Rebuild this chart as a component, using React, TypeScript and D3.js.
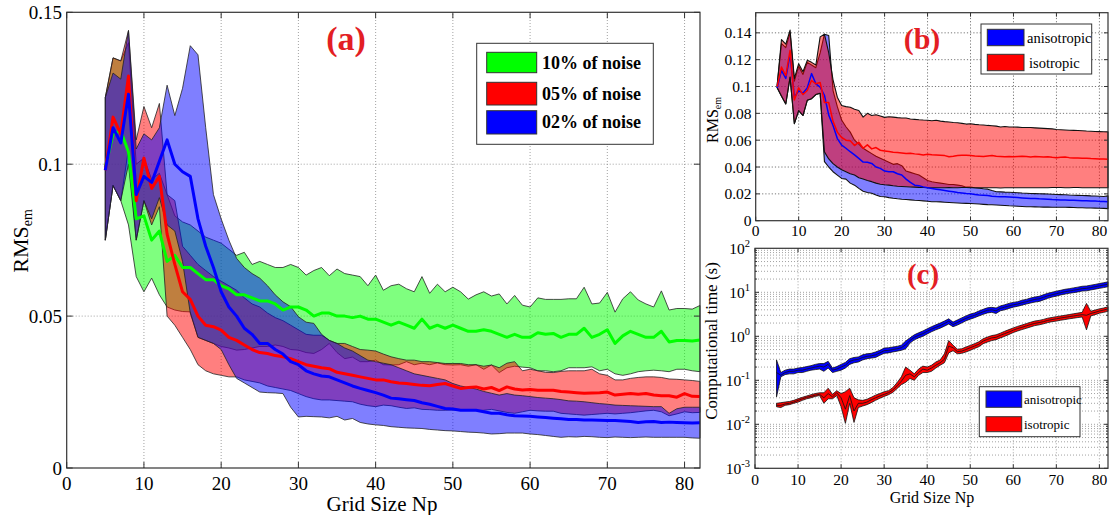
import React from "react";
import * as d3 from "d3";

const FONT = '"Liberation Serif", "DejaVu Serif", "Times New Roman", serif';

// grid sizes Np = 5 .. 82
const gridSize = d3.range(5, 83);
const xTicks = [0, 10, 20, 30, 40, 50, 60, 70, 80];
const aYTicks = [0, 0.05, 0.1, 0.15];
const aYLabels = ["0", "0.05", "0.1", "0.15"];
const bYTicks = [0, 0.02, 0.04, 0.06, 0.08, 0.1, 0.12, 0.14];
const bYLabels = ["0", "0.02", "0.04", "0.06", "0.08", "0.1", "0.12", "0.14"];
const cYExps = [-3, -2, -1, 0, 1, 2];

// ---- panel (a): RMS for three noise levels ----
const noiseLabels = ["10% of noise", "05% of noise", "02% of noise"];

const green10Mean = [
  .099, .110, .111, .104, .082, .083, .075, .078, .068, .070,
  .066, .066, .064, .062, .062, .060, .059, .057, .057, .056,
  .055, .055, .054, .052, .053, .053, .052, .050, .051, .051,
  .050, .050, .0495, .050, .049, .049, .048, .047, .048, .047,
  .046, .049, .046, .047, .046, .047, .046, .045, .045, .0455,
  .045, .044, .043, .044, .043, .043, .0445, .044, .0443, .043,
  .044, .044, .046, .043, .044, .0455, .041, .0435, .045, .044,
  .043, .043, .045, .0415, .042, .042, .0418, .0421,
];
const green10High = [
  .122, .135, .134, .140, .100, .102, .095, .097, .090, .083,
  .081, .080, .078, .076, .075, .074, .072, .070, .071, .067,
  .068, .067, .066, .066, .067, .066, .0635, .065, .066, .0633,
  .0655, .064, .0635, .063, .060, .0635, .0585, .060, .0605, .059,
  .058, .063, .0575, .0605, .058, .0595, .058, .0556, .057, .058,
  .0566, .0573, .054, .0568, .0536, .053, .056, .0555, .0555, .0555,
  .0557, .0557, .0595, .054, .0543, .0578, .0513, .0557, .058, .0553,
  .054, .053, .0583, .052, .0525, .0525, .0523, .0535,
];
const green10Low = [
  .075, .093, .088, .080, .063, .058, .0625, .057, .053, .052,
  .0515, .0514, .043, .042, .041, .040, .0395, .0388, .039, .0395,
  .040, .040, .0405, .040, .039, .0388, .038, .0377, .039, .041,
  .038, .036, .0365, .035, .035, .0355, .034, .0339, .034, .035,
  .034, .0345, .034, .0346, .034, .0339, .034, .0335, .034, .0325,
  .0339, .0314, .033, .0335, .0332, .033, .032, .032, .0317, .032,
  .033, .033, .033, .0333, .032, .0325, .031, .0305, .031, .0317,
  .032, .0322, .032, .0317, .0325, .0325, .032, .0317,
];

const red05Mean = [
  .098, .1155, .110, .129, .088, .102, .092, .096, .077, .067,
  .058, .0555, .050, .047, .0465, .0454, .043, .042, .0405, .039,
  .038, .0377, .037, .0366, .036, .035, .034, .0335, .033, .0327,
  .0315, .031, .0305, .030, .0295, .029, .029, .0284, .028, .0278,
  .0275, .0272, .0271, .0275, .0278, .027, .0262, .0265, .0267, .026,
  .0265, .0255, .0267, .026, .0257, .0258, .0256, .0256, .0256, .0252,
  .025, .0248, .0246, .0247, .0248, .025, .024, .0243, .0245, .0243,
  .0245, .024, .0238, .0238, .0233, .0245, .0236, .0235,
];
const red05High = [
  .122, .135, .134, .144, .108, .119, .112, .120, .090, .088,
  .073, .070, .067, .065, .063, .0615, .060, .0585, .056, .054,
  .053, .051, .0495, .0485, .047, .0455, .044, .0437, .0437, .042,
  .041, .041, .040, .039, .0388, .0385, .0375, .0366, .036, .0355,
  .0355, .035, .035, .0347, .0344, .0344, .0344, .034, .034, .0335,
  .0339, .033, .0345, .035, .032, .0325, .032, .0315, .0314, .0318,
  .032, .032, .032, .0325, .031, .0305, .029, .029, .0295, .0298,
  .030, .030, .0298, .0293, .0292, .029, .0288, .0285,
];
const red05Low = [
  .075, .093, .088, .105, .075, .088, .080, .086, .050, .047,
  .043, .039, .034, .032, .031, .0305, .030, .030, .029, .0285,
  .028, .027, .0265, .026, .0255, .0245, .0235, .0228, .0224, .0224,
  .0222, .022, .0218, .021, .0205, .0202, .0207, .0205, .020, .0196,
  .0198, .0193, .0192, .019, .019, .0191, .019, .019, .0189, .019,
  .0193, .0188, .0183, .018, .0185, .019, .0188, .0187, .0187, .018,
  .0178, .0176, .0174, .0176, .0178, .018, .0178, .018, .0182, .0185,
  .0188, .019, .0185, .0172, .0178, .0185, .0182, .0183,
];

const blue02Mean = [
  .098, .112, .107, .123, .090, .096, .094, .101, .108, .100,
  .0975, .096, .082, .073, .066, .058, .053, .050, .046, .044,
  .041, .041, .039, .0375, .035, .034, .032, .031, .0303, .030,
  .029, .028, .027, .0262, .0255, .0248, .024, .023, .0228, .0225,
  .0222, .0215, .021, .0203, .0196, .0194, .019, .019, .019, .0185,
  .018, .018, .0175, .0172, .0171, .017, .0168, .0166, .0164, .0162,
  .016, .016, .0158, .0158, .0157, .0156, .0156, .0155, .0153, .015,
  .0152, .0153, .015, .0151, .015, .0149, .0148, .0149,
];
const blue02High = [
  .122, .130, .128, .144, .105, .110, .108, .112, .126, .116,
  .125, .139, .136, .112, .090, .082, .075, .069, .066, .064,
  .0625, .060, .057, .0547, .0531, .0498, .048, .0476, .044, .042,
  .041, .0395, .0385, .037, .0355, .035, .0345, .034, .033, .032,
  .031, .0305, .030, .0295, .029, .0278, .027, .0265, .026, .0252,
  .0246, .024, .0245, .024, .0238, .0235, .0232, .023, .0228, .0225,
  .0221, .022, .0218, .0215, .0212, .021, .0207, .0206, .0205, .0204,
  .0203, .0202, .0202, .018, .0195, .020, .020, .020,
];
const blue02Low = [
  .075, .093, .088, .100, .075, .088, .082, .089, .080, .078,
  .068, .051, .043, .042, .041, .039, .034, .0295, .028, .0265,
  .025, .0248, .0247, .0245, .020, .0168, .017, .0169, .0168, .0165,
  .017, .0158, .0163, .015, .0145, .0142, .014, .0136, .0134, .0132,
  .0131, .013, .0127, .0125, .0123, .0122, .012, .0118, .0117, .0115,
  .0112, .0113, .0115, .0115, .0115, .0112, .011, .0107, .0104, .0101,
  .0103, .0102, .0104, .0103, .0101, .010, .0102, .0101, .010, .0101,
  .0102, .0101, .0101, .0101, .0101, .0101, .0099, .0098,
];

// ---- panel (b): RMS anisotropic vs isotropic ----
const modelLabels = ["anisotropic", "isotropic"];

const isoRmsMean = [
  .100, .1145, .108, .127, .090, .099, .094, .097, .1045, .102,
  .103, .088, .088, .074, .066, .062, .060, .0595, .056, .0585,
  .054, .0565, .0535, .0545, .0525, .052, .0515, .051, .0508, .0505,
  .050, .0502, .0498, .0495, .049, .0495, .0492, .049, .0488, .0485,
  .0476, .048, .0485, .0488, .0488, .0485, .0482, .048, .0478, .0482,
  .0485, .048, .0478, .0476, .0478, .0476, .0478, .048, .0478, .0475,
  .0478, .0476, .0474, .0476, .0472, .047, .0472, .0474, .047, .0468,
  .0467, .0466, .0465, .0463, .0462, .046, .046, .0458,
];
const isoRmsHigh = [
  .101, .135, .1315, .142, .106, .117, .111, .1195, .118, .116,
  .137, .139, .125, .105, .092, .0858, .085, .0846, .083, .0821,
  .0772, .080, .0784, .079, .078, .077, .0775, .0772, .0768, .0765,
  .0765, .0758, .0755, .0752, .075, .0749, .0745, .0748, .0742, .0738,
  .0735, .0732, .073, .0725, .072, .0722, .0718, .0715, .0713, .071,
  .0708, .0705, .0698, .0702, .0698, .0698, .0697, .0695, .0694, .0694,
  .0692, .069, .0688, .0686, .0684, .068, .0678, .0676, .0674, .0673,
  .0672, .067, .0668, .0667, .0665, .0664, .0663, .0662,
];
const isoRmsLow = [
  .099, .0927, .087, .107, .0723, .082, .0784, .0897, .0909, .094,
  .095, .0513, .046, .0425, .040, .038, .0365, .035, .034, .032,
  .031, .030, .0291, .028, .0272, .0268, .0265, .026, .0257, .0255,
  .0253, .0251, .025, .0248, .0247, .0246, .0245, .0245, .0246, .0246,
  .0247, .0246, .0246, .0247, .0247, .0246, .0245, .0245, .0246, .0246,
  .0245, .0245, .0244, .0245, .0246, .0245, .0245, .0246, .0245, .0245,
  .0246, .0246, .0245, .0246, .0247, .0247, .0247, .0246, .0246, .0247,
  .0247, .0246, .0246, .0246, .0246, .0246, .0245, .0245,
];

const anisoRmsMean = [
  .099, .112, .106, .124, .092, .097, .095, .099, .1096, .102,
  .0996, .0935, .0787, .071, .0612, .0563, .054, .0514, .049, .0464,
  .0437, .0435, .0427, .040, .039, .037, .0365, .0365, .035, .034,
  .031, .0285, .0265, .026, .0252, .0245, .024, .0235, .023, .0225,
  .022, .0215, .021, .0207, .0203, .020, .0196, .0192, .019, .0187,
  .0183, .018, .0179, .0178, .0176, .0174, .0172, .017, .0168, .0166,
  .0165, .0163, .0162, .016, .0158, .0157, .0155, .0154, .0153, .0152,
  .0151, .0149, .0148, .0147, .0146, .0144, .0143, .0141,
];
const anisoRmsHigh = [
  .101, .132, .129, .140, .104, .115, .109, .118, .116, .114,
  .125, .139, .138, .097, .085, .075, .070, .066, .060, .057,
  .054, .052, .050, .048, .0465, .045, .0435, .042, .0425, .041,
  .037, .036, .035, .034, .032, .030, .029, .0285, .028, .0275,
  .027, .027, .0265, .026, .025, .025, .0245, .0242, .0238, .0235,
  .0225, .0216, .0215, .0213, .0212, .021, .0208, .0206, .0205, .0203,
  .0202, .0201, .020, .0199, .0197, .0195, .0194, .0193, .0191, .019,
  .0189, .0188, .0187, .0185, .0184, .0182, .018, .0185,
];
const anisoRmsLow = [
  .099, .093, .087, .107, .0723, .082, .0784, .0897, .0909, .094,
  .095, .044, .040, .0365, .034, .0315, .031, .028, .0265, .0241,
  .022, .021, .0205, .0192, .018, .0179, .0172, .0167, .0163, .016,
  .0158, .0155, .0152, .015, .0148, .0145, .0141, .0141, .014, .0138,
  .0136, .0134, .0132, .013, .0129, .0128, .0126, .0124, .0122, .012,
  .0119, .0117, .0115, .0113, .0111, .011, .0108, .0106, .0104, .0104,
  .0103, .0102, .0101, .0101, .010, .010, .010, .010, .0099, .0098,
  .0097, .0096, .0095, .0095, .0094, .0093, .0092, .009,
];

// ---- panel (c): computational time (s) ----
const anisoTimeMean = [
  .15, .13, .15, .16, .16, .17, .17, .18, .19, .20,
  .21, .20, .23, .17, .18, .20, .22, .27, .29, .30,
  .33, .35, .36, .38, .42, .47, .48, .50, .52, .55,
  .64, .80, .95, 1.05, 1.15, 1.3, 1.45, 1.6, 1.75, 1.95,
  2.2, 1.85, 2.05, 2.3, 2.55, 2.8, 3.0, 3.3, 3.6, 3.9,
  4.0, 3.8, 4.3, 4.6, 4.9, 5.2, 5.4, 5.8, 6.1, 6.5,
  6.9, 7.1, 7.7, 8.3, 8.8, 9.3, 9.8, 10.3, 10.7, 11.1,
  11.6, 12.1, 12.3, 12.8, 13.4, 14.0, 14.6, 15.3,
];
const anisoTimeLow = [
  .042, .12, .135, .14, .14, .15, .15, .16, .17, .175,
  .18, .16, .19, .15, .16, .17, .19, .23, .25, .26,
  .29, .31, .32, .33, .37, .41, .42, .44, .46, .48,
  .52, .70, .83, .92, 1.0, 1.13, 1.27, 1.4, 1.53, 1.7,
  1.9, 1.65, 1.8, 2.0, 2.25, 2.45, 2.65, 2.9, 3.15, 3.4,
  3.5, 3.3, 3.8, 4.0, 4.3, 4.6, 4.8, 5.1, 5.4, 5.7,
  6.0, 6.2, 6.7, 7.3, 7.8, 8.2, 8.7, 9.1, 9.5, 9.8,
  10.2, 10.7, 10.8, 11.3, 11.8, 12.3, 12.8, 13.4,
];
const anisoTimeHigh = [
  .29, .15, .17, .18, .18, .19, .195, .205, .215, .23,
  .24, .24, .27, .19, .205, .23, .255, .31, .33, .34,
  .38, .40, .41, .44, .48, .54, .55, .57, .59, .63,
  .78, .92, 1.08, 1.2, 1.32, 1.48, 1.65, 1.82, 2.0, 2.22,
  2.5, 2.1, 2.35, 2.62, 2.9, 3.2, 3.4, 3.75, 4.1, 4.45,
  4.55, 4.4, 4.9, 5.2, 5.6, 5.9, 6.1, 6.6, 6.9, 7.4,
  7.8, 8.1, 8.8, 9.5, 10.0, 10.6, 11.1, 11.7, 12.1, 12.6,
  13.1, 13.7, 13.9, 14.5, 15.1, 15.8, 16.5, 17.3,
];

const isoTimeMean = [
  .027, .027, .029, .030, .032, .035, .038, .041, .043, .046,
  .048, .040, .050, .042, .052, .040, .022, .045, .020, .030,
  .030, .032, .036, .040, .044, .048, .052, .060, .075, .095,
  .13, .14, .12, .15, .18, .17, .19, .22, .25, .30,
  .60, .55, .45, .46, .50, .55, .60, .66, .78, .85,
  .92, .95, 1.05, 1.15, 1.25, 1.38, 1.5, 1.6, 1.72, 1.85,
  1.97, 2.05, 2.15, 2.3, 2.4, 2.5, 2.6, 2.7, 2.8, 2.9,
  3.0, 3.1, 3.0, 3.3, 3.5, 3.75, 3.95, 4.2,
];
const isoTimeLow = [
  .025, .024, .027, .028, .030, .032, .035, .038, .040, .043,
  .045, .030, .038, .038, .045, .025, .0105, .030, .011, .024,
  .026, .028, .031, .035, .039, .043, .047, .053, .065, .08,
  .09, .11, .10, .13, .15, .15, .16, .19, .22, .25,
  .42, .47, .40, .41, .44, .48, .53, .58, .68, .74,
  .80, .84, .92, 1.0, 1.1, 1.22, 1.32, 1.42, 1.52, 1.63,
  1.75, 1.82, 1.92, 2.05, 2.15, 2.22, 2.32, 2.4, 2.5, 2.58,
  2.67, 2.75, 1.4, 2.9, 3.1, 3.35, 3.5, 3.7,
];
const isoTimeHigh = [
  .030, .031, .032, .033, .035, .038, .041, .044, .047, .050,
  .052, .052, .066, .048, .058, .050, .055, .066, .040, .036,
  .035, .037, .041, .046, .050, .055, .058, .068, .088, .12,
  .20, .17, .14, .18, .21, .20, .22, .26, .29, .40,
  .80, .63, .51, .52, .57, .62, .68, .75, .88, .96,
  1.04, 1.08, 1.18, 1.3, 1.42, 1.55, 1.68, 1.8, 1.94, 2.08,
  2.22, 2.3, 2.42, 2.58, 2.68, 2.8, 2.9, 3.0, 3.12, 3.25,
  3.37, 3.5, 5.6, 3.7, 3.95, 4.2, 4.4, 4.7,
];

type Scale = (v: number) => number;

function Band({ lo, hi, x, y, fill, opacity, edge, edgeWidth }: {
  lo: number[]; hi: number[]; x: Scale; y: Scale; fill: string; opacity: number; edge: string; edgeWidth: number;
}) {
  const rows = gridSize.map((g, i) => [g, lo[i], hi[i]]);
  const d = d3.area<number[]>()
    .x((r) => x(r[0]))
    .y0((r) => y(r[1]))
    .y1((r) => y(r[2]))(rows);
  return (
    <path d={d || ""} fill={fill} fillOpacity={opacity} stroke={edge} strokeWidth={edgeWidth} strokeLinejoin="round" />
  );
}

function MeanLine({ values, x, y, color, width }: {
  values: number[]; x: Scale; y: Scale; color: string; width: number;
}) {
  const d = d3.line<number>()
    .x((_, i) => x(gridSize[i]))
    .y((v) => y(v))(values);
  return <path d={d || ""} fill="none" stroke={color} strokeWidth={width} strokeLinejoin="round" />;
}

export default function App() {
  // panel (a)
  const xA = d3.scaleLinear().domain([0, 82]).range([66.7, 700]);
  const yA = d3.scaleLinear().domain([0, 0.15]).range([468, 12.3]);
  // panel (b)
  const xB = d3.scaleLinear().domain([0, 82]).range([755.7, 1108]);
  const yB = d3.scaleLinear().domain([0, 0.155]).range([220.7, 12.7]);
  // panel (c)
  const xC = d3.scaleLinear().domain([0, 82]).range([755, 1108]);
  const yC = d3.scaleLog().domain([1e-3, 1e2]).range([468.3, 248.3]);

  const [aL, aR] = xA.range();
  const [aB, aT] = yA.range();
  const [bL, bR] = xB.range();
  const [bB, bT] = yB.range();
  const [cL, cR] = xC.range();
  const [cB, cT] = yC.range();

  const cMinor: number[] = [];
  cYExps.slice(0, -1).forEach((e) => {
    for (let m = 1; m < 10; m++) cMinor.push(m * Math.pow(10, e));
  });

  const aSeries = [
    { mean: green10Mean, lo: green10Low, hi: green10High, color: "#00ff00" },
    { mean: red05Mean, lo: red05Low, hi: red05High, color: "#ff0000" },
    { mean: blue02Mean, lo: blue02Low, hi: blue02High, color: "#0000ff" },
  ];

  const dotted = { stroke: "#8a8a8a", strokeWidth: 0.8, strokeDasharray: "1,2" };

  return (
    <svg
      width={1112}
      height={515}
      style={{ position: "absolute", left: 0, top: 0, background: "#fff", fontFamily: FONT }}
      fontFamily={FONT}
    >
      <rect x={0} y={0} width={1112} height={515} fill="#fff" />

      {/* ================= panel (a) ================= */}
      <g>
        {xTicks.slice(1).map((t) => (
          <line key={"ag" + t} x1={xA(t)} x2={xA(t)} y1={aB} y2={aT} {...dotted} />
        ))}
        {aYTicks.slice(1, -1).map((t) => (
          <line key={"agy" + t} x1={aL} x2={aR} y1={yA(t)} y2={yA(t)} {...dotted} />
        ))}
        {aSeries.map((s, i) => (
          <Band key={"ab" + i} lo={s.lo} hi={s.hi} x={xA} y={yA} fill={s.color} opacity={0.5} edge="#222" edgeWidth={0.8} />
        ))}
        {aSeries.map((s, i) => (
          <MeanLine key={"al" + i} values={s.mean} x={xA} y={yA} color={s.color} width={3} />
        ))}
        <rect x={aL} y={aT} width={aR - aL} height={aB - aT} fill="none" stroke="#333" strokeWidth={1.2} />
        {xTicks.map((t) => (
          <g key={"axt" + t}>
            <line x1={xA(t)} x2={xA(t)} y1={aB} y2={aB - 6} stroke="#333" />
            <line x1={xA(t)} x2={xA(t)} y1={aT} y2={aT + 6} stroke="#333" />
            <text x={xA(t)} y={490} fontSize={19} textAnchor="middle">{t}</text>
          </g>
        ))}
        {aYTicks.map((t, i) => (
          <g key={"ayt" + t}>
            <line x1={aL} x2={aL + 6} y1={yA(t)} y2={yA(t)} stroke="#333" />
            <line x1={aR} x2={aR - 6} y1={yA(t)} y2={yA(t)} stroke="#333" />
            <text x={62} y={yA(t) + 7} fontSize={19} textAnchor="end">{aYLabels[i]}</text>
          </g>
        ))}
        <text x={382} y={511} fontSize={21} textAnchor="middle">Grid Size Np</text>
        <text transform={`translate(28, 241) rotate(-90)`} fontSize={22} textAnchor="middle">
          RMS<tspan fontSize={14} dy={4}>em</tspan>
        </text>
        <text x={346} y={50} fontSize={34} fontWeight="bold" fill="#e31e24" textAnchor="middle">(a)</text>

        {/* legend (a) */}
        <rect x={476.7} y={43.3} width={176.6} height={101} fill="#fff" stroke="#333" strokeWidth={1} />
        {noiseLabels.map((lab, i) => {
          const top = [52.3, 82.3, 110.7][i];
          const h = [20.4, 22.7, 23.3][i];
          return (
            <g key={"alg" + i}>
              <rect x={486.7} y={top} width={50} height={h} fill={aSeries[i].color} stroke="#333" strokeWidth={1} />
              <text x={542} y={top + h / 2 + 6} fontSize={18} fontWeight="bold">{lab}</text>
            </g>
          );
        })}
      </g>

      {/* ================= panel (b) ================= */}
      <g>
        {xTicks.slice(1).map((t) => (
          <line key={"bg" + t} x1={xB(t)} x2={xB(t)} y1={bB} y2={bT} stroke="#777" strokeWidth={1} strokeDasharray="1.2,2" />
        ))}
        {bYTicks.slice(1).map((t) => (
          <line key={"bgy" + t} x1={bL} x2={bR} y1={yB(t)} y2={yB(t)} stroke="#777" strokeWidth={1} strokeDasharray="1.2,2" />
        ))}
        <Band lo={anisoRmsLow} hi={anisoRmsHigh} x={xB} y={yB} fill="#0000ff" opacity={0.5} edge="#111" edgeWidth={1.1} />
        <Band lo={isoRmsLow} hi={isoRmsHigh} x={xB} y={yB} fill="#ff0000" opacity={0.5} edge="#111" edgeWidth={1.1} />
        <MeanLine values={anisoRmsMean} x={xB} y={yB} color="#0000ff" width={1.5} />
        <MeanLine values={isoRmsMean} x={xB} y={yB} color="#ff0000" width={1.5} />
        <rect x={bL} y={bT} width={bR - bL} height={bB - bT} fill="none" stroke="#333" strokeWidth={1.2} />
        {xTicks.map((t) => (
          <g key={"bxt" + t}>
            <line x1={xB(t)} x2={xB(t)} y1={bB} y2={bB - 4} stroke="#333" />
            <line x1={xB(t)} x2={xB(t)} y1={bT} y2={bT + 4} stroke="#333" />
            <text x={xB(t)} y={236} fontSize={15.5} textAnchor="middle">{t}</text>
          </g>
        ))}
        {bYTicks.map((t, i) => (
          <g key={"byt" + t}>
            <line x1={bL} x2={bL + 4} y1={yB(t)} y2={yB(t)} stroke="#333" />
            <line x1={bR} x2={bR - 4} y1={yB(t)} y2={yB(t)} stroke="#333" />
            <text x={751.5} y={yB(t) + 5.5} fontSize={15.5} textAnchor="end">{bYLabels[i]}</text>
          </g>
        ))}
        <text transform={`translate(718, 120) rotate(-90)`} fontSize={16} textAnchor="middle">
          RMS<tspan fontSize={10} dy={3}>em</tspan>
        </text>
        <text x={922} y={49} fontSize={30} fontWeight="bold" fill="#e31e24" textAnchor="middle">(b)</text>

        <rect x={981} y={24} width={110.7} height={50} fill="#fff" stroke="#333" strokeWidth={1} />
        <rect x={987.3} y={29.3} width={36.7} height={16.4} fill="#0000ff" stroke="#333" strokeWidth={1} />
        <text x={1027} y={42.5} fontSize={14.5}>{modelLabels[0]}</text>
        <rect x={987.3} y={54.3} width={36.7} height={16.4} fill="#ff0000" stroke="#333" strokeWidth={1} />
        <text x={1029} y={67.5} fontSize={14.5}>{modelLabels[1]}</text>
      </g>

      {/* ================= panel (c) ================= */}
      <g>
        {xTicks.slice(1).map((t) => (
          <line key={"cg" + t} x1={xC(t)} x2={xC(t)} y1={cB} y2={cT} {...dotted} />
        ))}
        {cMinor.slice(1).map((v, i) => (
          <line key={"cgy" + i} x1={cL} x2={cR} y1={yC(v)} y2={yC(v)} {...dotted} />
        ))}
        <Band lo={anisoTimeLow} hi={anisoTimeHigh} x={xC} y={yC} fill="#0000ff" opacity={1} edge="#111" edgeWidth={0.8} />
        <MeanLine values={anisoTimeMean} x={xC} y={yC} color="#111" width={0.8} />
        <Band lo={isoTimeLow} hi={isoTimeHigh} x={xC} y={yC} fill="#ff0000" opacity={1} edge="#111" edgeWidth={0.8} />
        <MeanLine values={isoTimeMean} x={xC} y={yC} color="#111" width={0.8} />
        <rect x={cL} y={cT} width={cR - cL} height={cB - cT} fill="none" stroke="#333" strokeWidth={1.2} />
        {xTicks.map((t) => (
          <g key={"cxt" + t}>
            <line x1={xC(t)} x2={xC(t)} y1={cB} y2={cB - 4} stroke="#333" />
            <line x1={xC(t)} x2={xC(t)} y1={cT} y2={cT + 4} stroke="#333" />
            <text x={xC(t)} y={485} fontSize={15.5} textAnchor="middle">{t}</text>
          </g>
        ))}
        {cMinor.map((v, i) => (
          <g key={"cmt" + i}>
            <line x1={cL} x2={cL + (i % 9 === 0 ? 4 : 2)} y1={yC(v)} y2={yC(v)} stroke="#333" />
            <line x1={cR} x2={cR - (i % 9 === 0 ? 4 : 2)} y1={yC(v)} y2={yC(v)} stroke="#333" />
          </g>
        ))}
        {cYExps.map((e) => (
          <text key={"cyl" + e} x={750} y={yC(Math.pow(10, e)) + 6} fontSize={15.5} textAnchor="end">
            10<tspan fontSize={10.5} dy={-7}>{e}</tspan>
          </text>
        ))}
        <text x={932} y={503} fontSize={16} textAnchor="middle">Grid Size Np</text>
        <text transform={`translate(717, 341) rotate(-90)`} fontSize={17} textAnchor="middle">Computational time (s)</text>
        <text x={923} y={284} fontSize={29} fontWeight="bold" fill="#e31e24" textAnchor="middle">(c)</text>

        <rect x={979.3} y={386.7} width={100.7} height={50} fill="#fff" stroke="#333" strokeWidth={1} />
        <rect x={986} y={391} width={35.7} height={16.3} fill="#0000ff" stroke="#333" strokeWidth={1} />
        <text x={1024} y={404} fontSize={13}>{modelLabels[0]}</text>
        <rect x={986} y={416.7} width={35.7} height={15} fill="#ff0000" stroke="#333" strokeWidth={1} />
        <text x={1024} y={428.5} fontSize={13}>{modelLabels[1]}</text>
      </g>
    </svg>
  );
}
